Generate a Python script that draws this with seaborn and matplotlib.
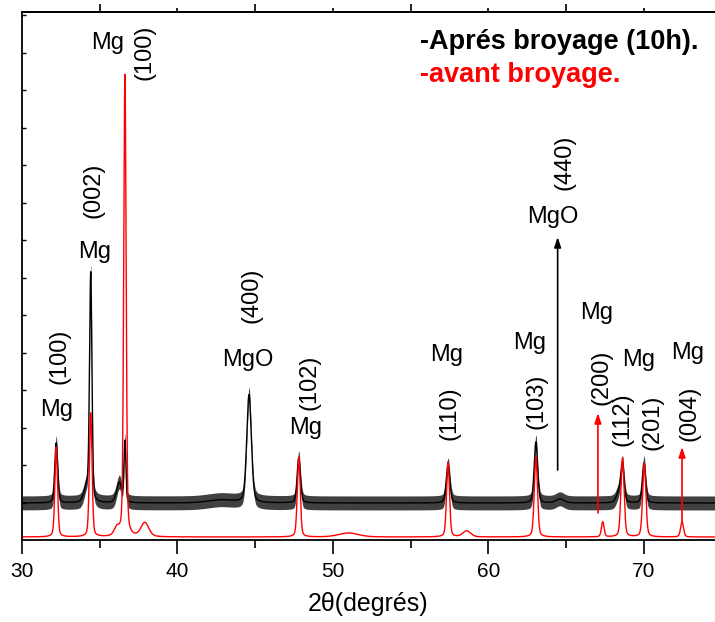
import numpy as np
import pandas as pd
import matplotlib
matplotlib.use("Agg")
import matplotlib.pyplot as plt
import seaborn as sns

# ---- data (intensity in arbitrary units) ----
# before milling (red)
red_base = 3
red_pos = [32.2, 34.42, 36.1, 36.62, 37.9, 47.8, 51.0, 57.4, 58.6, 63.05, 67.35, 68.62, 70.02, 72.45]
red_height = [90, 124, 8, 462, 14, 80, 4, 75, 6, 80, 15, 79, 74, 15]
red_fwhm = [0.2, 0.2, 0.4, 0.18, 0.6, 0.22, 1.5, 0.22, 0.6, 0.24, 0.2, 0.24, 0.24, 0.22]

# after milling 10h (black)
black_base = 37
black_pos = [32.2, 34.15, 34.42, 36.25, 36.62, 42.8, 44.6, 47.8, 57.4, 63.05, 64.6, 68.4, 68.62, 70.0]
black_height = [60, 14, 227, 20, 60, 3, 108, 45, 38, 61, 4, 10, 36, 40]
black_fwhm = [0.22, 0.4, 0.18, 0.4, 0.14, 2.0, 0.35, 0.25, 0.28, 0.26, 0.6, 0.4, 0.25, 0.25]
black_noise = 7

# peak labels: (phase, hkl)
phase_text = ["Mg", "Mg", "Mg", "MgO", "Mg", "Mg", "Mg", "MgO", "Mg", "Mg", "Mg"]
phase_x = [32.25, 34.7, 35.53, 44.53, 48.26, 57.33, 62.67, 64.15, 66.98, 69.68, 72.83]
phase_y = [130, 288, 497, 180, 112, 185, 197, 323, 227, 180, 187]
hkl_text = ["(100)", "(002)", "(100)", "(400)", "(102)", "(110)", "(103)", "(440)", "(200)", "(112)", "(201)", "(004)"]
hkl_x = [32.44, 34.57, 37.9, 44.79, 48.52, 57.52, 63.12, 64.92, 67.3, 68.65, 70.58, 72.96]
hkl_y = [184, 350, 488, 245, 158, 127, 139, 378, 163, 121, 118, 127]

# arrows: x, y start, y end, colour
arrow_x = [64.45, 67.04, 72.45]
arrow_y0 = [70, 27, 18]
arrow_y1 = [303, 127, 93]
arrow_color = ["black", "red", "red"]


def profile(x, base, pos, height, fwhm, eta=0.3):
    y = np.full_like(x, float(base))
    for p, h, w in zip(pos, height, fwhm):
        d = (x - p) / (w / 2)
        lor = 1 / (1 + d ** 2)
        gau = np.exp(-np.log(2) * d ** 2)
        y += h * (eta * lor + (1 - eta) * gau)
    return y


two_theta = np.linspace(30, 74.6, 5000)
df = pd.DataFrame({
    "two_theta": np.concatenate([two_theta, two_theta]),
    "I": np.concatenate([profile(two_theta, black_base, black_pos, black_height, black_fwhm),
                         profile(two_theta, red_base, red_pos, red_height, red_fwhm)]),
    "serie": ["apres"] * len(two_theta) + ["avant"] * len(two_theta),
})

sns.set_style("ticks")
plt.rcParams["font.family"] = ["Liberation Sans", "DejaVu Sans"]
plt.rcParams["text.color"] = "black"
plt.rcParams["xtick.color"] = "black"
plt.rcParams["ytick.color"] = "black"
plt.rcParams["axes.edgecolor"] = "black"
plt.rcParams["axes.labelcolor"] = "black"

fig = plt.figure(figsize=(7.15, 6.22), dpi=100)
ax = fig.add_axes([22 / 715, 1 - 540 / 622, 1 - 22 / 715, (540 - 12) / 622])

# noisy band of the milled sample
blk = df[df.serie == "apres"]
ax.fill_between(blk.two_theta, blk.I - black_noise, blk.I + black_noise, color="black", lw=0, alpha=0.75)
sns.lineplot(data=df, x="two_theta", y="I", hue="serie", palette={"apres": "black", "avant": "red"},
             linewidth=1.0, legend=False, ax=ax, estimator=None, sort=False)

for xa, y0, y1, c in zip(arrow_x, arrow_y0, arrow_y1, arrow_color):
    ax.annotate("", xy=(xa, y1), xytext=(xa, y0),
                arrowprops=dict(arrowstyle="-|>,head_length=0.6,head_width=0.2", color=c, lw=1.2, shrinkA=0, shrinkB=0))

for t, x, y in zip(phase_text, phase_x, phase_y):
    ax.text(x, y, t, fontsize=17, ha="center", va="center")
for t, x, y in zip(hkl_text, hkl_x, hkl_y):
    ax.text(x, y, t, fontsize=17, ha="center", va="center", rotation=90)

ax.text(55.6, 498, "-Aprés broyage (10h).", fontsize=19.5, fontweight="bold", color="black", ha="left", va="center")
ax.text(55.6, 465, "-avant broyage.", fontsize=19.5, fontweight="bold", color="red", ha="left", va="center")

ax.set_xlim(30, 74.57)
ax.set_ylim(0, 528)
ax.set_xticks([30, 40, 50, 60, 70])
ax.set_xticks([35, 45, 55, 65], minor=True)
ax.tick_params(axis="x", which="major", direction="out", length=10, width=1.2, labelsize=15, pad=6)
ax.tick_params(axis="x", which="minor", direction="out", length=6, width=1.2)
ax.set_yticks(np.arange(37.5, 528, 37.5))
ax.tick_params(axis="y", direction="in", length=3, width=1, labelleft=False)
ax.set_xlabel("2θ(degrés)", fontsize=18, labelpad=8)
ax.set_ylabel("")
ax.spines["right"].set_visible(False)
for s in ["left", "bottom", "top"]:
    ax.spines[s].set_linewidth(1.3)

top = ax.secondary_xaxis("top")
top.set_xticks([35, 45, 55, 65])
top.set_xticks([40, 50, 60, 70], minor=True)
top.tick_params(which="major", direction="out", length=6, width=1.2, labeltop=False)
top.tick_params(which="minor", direction="out", length=3, width=1.2)
top.spines["top"].set_linewidth(1.3)

fig.savefig("out.png", dpi=100)
